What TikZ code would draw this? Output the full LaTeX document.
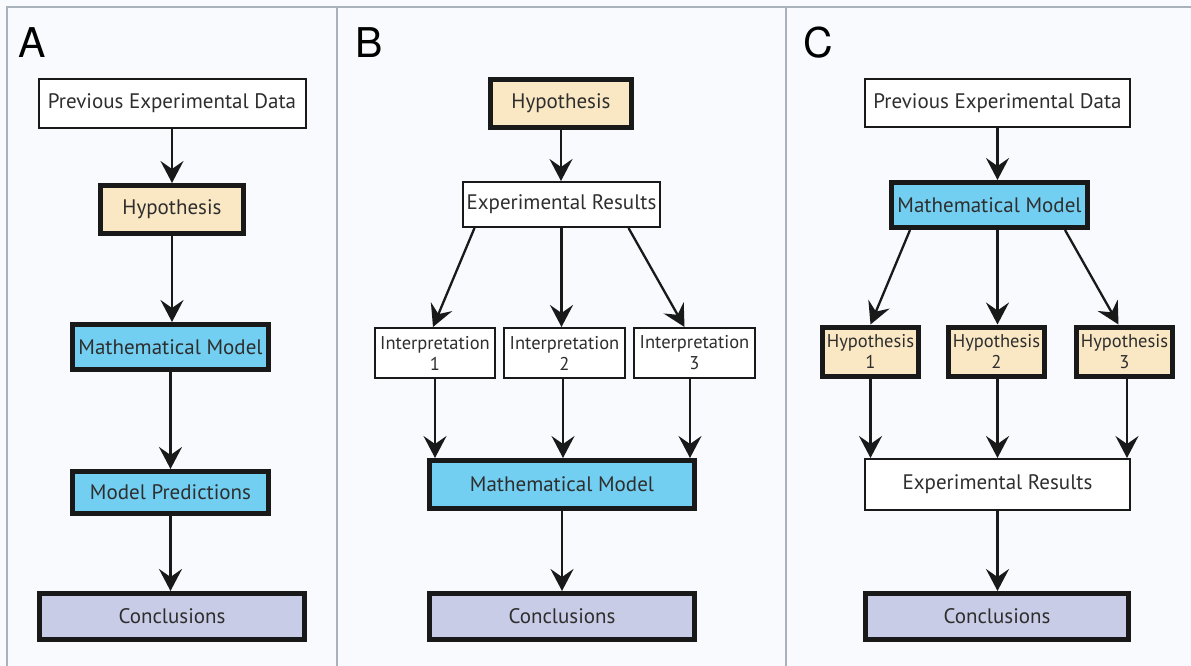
\documentclass[tikz,border=0pt]{standalone}
\usepackage{fontspec}
\setmainfont{PT Sans}
\newfontfamily\letterfont{TeX Gyre Heros}
\usetikzlibrary{arrows.meta}
\definecolor{bg}{HTML}{F8FAFD}
\definecolor{hyp}{HTML}{FAE8C4}
\definecolor{mod}{HTML}{72CFF2}
\definecolor{con}{HTML}{C9CCE6}
\definecolor{txt}{HTML}{2E2E2E}
\definecolor{sep}{HTML}{A9B2BA}
\begin{document}
\begin{tikzpicture}[x=1pt,y=-1pt,
  thinbox/.style={draw=black!90,line width=2pt,fill=white,inner sep=0pt,align=center,text=txt,font=\fontsize{21}{23}\selectfont},
  thickbox/.style={draw=black!90,line width=5pt,inner sep=0pt,align=center,text=txt,font=\fontsize{21}{23}\selectfont},
  smallbox/.style={font=\fontsize{18.5}{21}\selectfont},
  arr/.style={line width=2.3pt,draw=black!90,-{Stealth[length=22pt,width=23pt,inset=8pt]}},
  panellabel/.style={font=\letterfont\fontsize{41}{41}\selectfont,inner sep=0pt,anchor=north west}]
\fill[bg] (0,0) rectangle (1191,666);
\useasboundingbox (0,0) rectangle (1191,666);
\draw[sep,line width=1.5pt] (7,666) -- (7,7) -- (1191,7);
\draw[sep,line width=1.5pt] (337,7) -- (337,666);
\draw[sep,line width=1.5pt] (786,7) -- (786,666);
% Panel labels
\node[panellabel] (la) at (18,27) {A};
\node[panellabel] (lb) at (355,27) {B};
\node[panellabel] (lc) at (803,27) {C};
% Panel A
\node[thinbox,minimum width=267pt,minimum height=49pt] (a1) at (172,103.5) {Previous Experimental Data};
\node[thickbox,fill=hyp,minimum width=143pt,minimum height=48pt] (a2) at (172,209.5) {Hypothesis};
\node[thickbox,fill=mod,minimum width=196pt,minimum height=45pt] (a3) at (170.5,347) {Mathematical Model};
\node[thickbox,fill=mod,minimum width=196pt,minimum height=42pt] (a4) at (170.5,492.5) {Model Predictions};
\node[thickbox,fill=con,minimum width=265pt,minimum height=46pt] (a5) at (172,616.5) {Conclusions};
\draw[arr] (a1.south) -- (a1.south |- a2.north);
\draw[arr] (a2.south) -- (a2.south |- a3.north);
\draw[arr] (a3.south) -- (a3.south |- a4.north);
\draw[arr] (a4.south) -- (a4.south |- a5.north);
% Panel B
\node[thickbox,fill=hyp,minimum width=141pt,minimum height=48pt] (b1) at (561,103.5) {Hypothesis};
\node[thinbox,minimum width=197pt,minimum height=45pt] (b2) at (561.5,204.5) {Experimental Results};
\node[thinbox,smallbox,minimum width=120pt,minimum height=50pt] (b3) at (435,353) {Interpretation\\1};
\node[thinbox,smallbox,minimum width=121pt,minimum height=50pt] (b4) at (564.5,353) {Interpretation\\2};
\node[thinbox,smallbox,minimum width=121pt,minimum height=50pt] (b5) at (694.5,353) {Interpretation\\3};
\node[thickbox,fill=mod,minimum width=265pt,minimum height=48pt] (b6) at (562,484.5) {Mathematical Model};
\node[thickbox,fill=con,minimum width=265pt,minimum height=46pt] (b7) at (562,616.5) {Conclusions};
\draw[arr] (b1.south) -- (b1.south |- b2.north);
\draw[arr] ([xshift=-87pt]b2.south) -- ([xshift=-2pt]b3.north);
\draw[arr] (b2.south) -- (b2.south |- b4.north);
\draw[arr] ([xshift=67pt]b2.south) -- ([xshift=-10pt]b5.north);
\draw[arr] (b3.south) -- (b3.south |- b6.north);
\draw[arr] ([xshift=-1.5pt]b4.south) -- ([xshift=-1.5pt]b4.south |- b6.north);
\draw[arr] ([xshift=-4.5pt]b5.south) -- ([xshift=-4.5pt]b5.south |- b6.north);
\draw[arr] (b6.south) -- (b6.south |- b7.north);
% Panel C
\node[thinbox,minimum width=265pt,minimum height=48pt] (c1) at (997.5,103) {Previous Experimental Data};
\node[thickbox,fill=mod,minimum width=196pt,minimum height=45pt] (c2) at (989.5,205) {Mathematical Model};
\node[thickbox,fill=hyp,smallbox,minimum width=96pt,minimum height=49pt] (c3) at (870.5,351.5) {Hypothesis\\1};
\node[thickbox,fill=hyp,smallbox,minimum width=96pt,minimum height=49pt] (c4) at (996.5,351.5) {Hypothesis\\2};
\node[thickbox,fill=hyp,smallbox,minimum width=96pt,minimum height=49pt] (c5) at (1124.5,351.5) {Hypothesis\\3};
\node[thinbox,minimum width=265pt,minimum height=51pt] (c6) at (997.5,484.5) {Experimental Results};
\node[thickbox,fill=con,minimum width=263pt,minimum height=46pt] (c7) at (997,616.5) {Conclusions};
\draw[arr] (c1.south) -- (c1.south |- c2.north);
\draw[arr] ([xshift=-79.5pt]c2.south) -- (c3.north);
\draw[arr] ([xshift=8pt]c2.south) -- ([xshift=8pt]c2.south |- c4.north);
\draw[arr] ([xshift=75.5pt]c2.south) -- ([xshift=-6pt]c5.north);
\draw[arr] (c3.south) -- (c3.south |- c6.north);
\draw[arr] ([xshift=1pt]c4.south) -- ([xshift=1pt]c4.south |- c6.north);
\draw[arr] ([xshift=2.5pt]c5.south) -- ([xshift=2.5pt]c5.south |- c6.north);
\draw[arr] (c6.south) -- (c6.south |- c7.north);
\end{tikzpicture}
\end{document}
